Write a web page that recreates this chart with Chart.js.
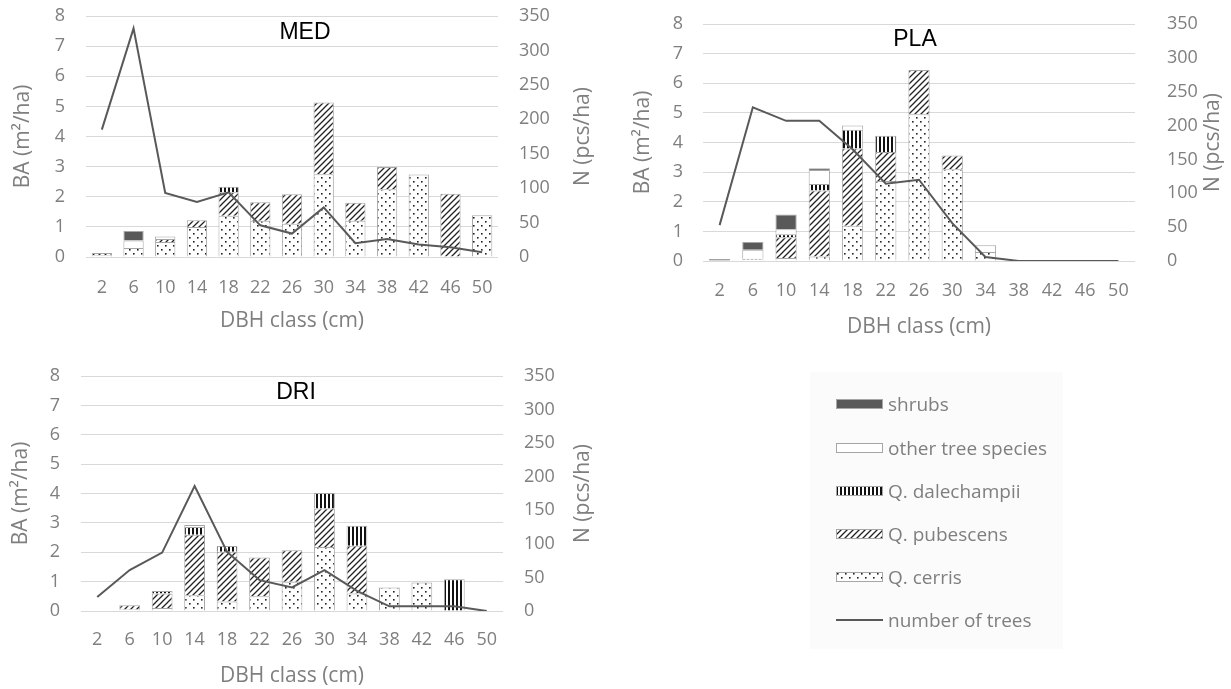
<!DOCTYPE html>
<html>
<head>
<meta charset="utf-8">
<script src="https://cdn.jsdelivr.net/npm/chart.js@4.4.1/dist/chart.umd.min.js"></script>
<style>
    body { margin: 0; background: #fff; }
    #page { position: relative; width: 1231px; height: 689px; overflow: hidden; font-family: 'Open Sans', sans-serif; }
    .panel { position: absolute; }
    #legend { position: absolute; left: 810px; top: 372px; width: 253px; height: 277px; background: #fbfbfb; }
    .item { position: absolute; left: 26px; height: 26px; display: flex; align-items: center; color: #7f7f7f; font-size: 19px; white-space: nowrap; }
    .item canvas { margin-right: 5px; }
</style>
</head>
<body>
<div id="page">
    <canvas id="medChart" class="panel" width="610" height="340" style="left:0;top:0"></canvas>
    <canvas id="plaChart" class="panel" width="616" height="345" style="left:615px;top:0"></canvas>
    <canvas id="driChart" class="panel" width="610" height="339" style="left:0;top:350px"></canvas>
    <div id="legend"></div>
</div>
<script>
// DBH classes (cm)
var dbhClasses = ['2', '6', '10', '14', '18', '22', '26', '30', '34', '38', '42', '46', '50'];

// MED - basal area (m2/ha) by species group, number of trees (pcs/ha)
var medCerris      = [0.06, 0.30, 0.50, 1.00, 1.37, 1.20, 1.10, 2.75, 1.20, 2.25, 2.74, 0,    1.39];
var medPubescens   = [0.07, 0,    0.10, 0.22, 0.78, 0.62, 0.98, 2.38, 0.60, 0.74, 0,    2.10, 0];
var medDalechampii = [0,    0,    0,    0,    0.18, 0,    0,    0,    0,    0,    0,    0,    0];
var medOther       = [0,    0.25, 0.08, 0,    0,    0,    0,    0,    0,    0,    0,    0,    0];
var medShrubs      = [0,    0.31, 0,    0,    0,    0,    0,    0,    0,    0,    0,    0,    0];
var medTrees       = [185,  332,  93,   80,   94,   46,   34,   72,   20,   26,   18,   14,   7];

// PLA
var plaCerris      = [0,    0.05, 0.10, 0.15, 1.19, 2.70, 4.95, 3.10, 0.30, 0, 0, 0, 0];
var plaPubescens   = [0,    0,    0.70, 2.23, 2.61, 0.98, 1.50, 0.46, 0,    0, 0, 0, 0];
var plaDalechampii = [0,    0.03, 0.10, 0.22, 0.63, 0.55, 0,    0,    0,    0, 0, 0, 0];
var plaOther       = [0,    0.30, 0.17, 0.47, 0.14, 0,    0,    0,    0.23, 0, 0, 0, 0];
var plaShrubs      = [0.07, 0.26, 0.50, 0.06, 0,    0,    0,    0,    0,    0, 0, 0, 0];
var plaTrees       = [53,   227,  207,  207,  165,  114,  120,  56,   6,    0, 0, 0, 0];

// DRI
var driCerris      = [0.02, 0.05, 0.10, 0.54, 0.32, 0.50, 1.00, 2.18, 0.60, 0.80, 0.97, 0,    0];
var driPubescens   = [0,    0.15, 0.50, 2.06, 1.70, 1.32, 1.07, 1.31, 1.62, 0,    0,    0,    0];
var driDalechampii = [0,    0,    0.08, 0.26, 0.19, 0,    0,    0.53, 0.68, 0,    0,    1.08, 0];
var driOther       = [0,    0,    0,    0.07, 0,    0,    0,    0,    0,    0,    0,    0,    0];
var driShrubs      = [0,    0,    0,    0,    0,    0,    0,    0,    0,    0,    0,    0,    0];
var driTrees       = [21,   61,   87,   186,  88,   46,   35,   61,   30,   7,    7,    7,    0];

var baTicks = [0, 1, 2, 3, 4, 5, 6, 7, 8];
var nTicks = [0, 50, 100, 150, 200, 250, 300, 350];

var seriesNames = ['Q. cerris', 'Q. pubescens', 'Q. dalechampii', 'other tree species', 'shrubs'];
var lineName = 'number of trees';

var grayText = '#7f7f7f';
var lineColor = '#595959';

function makePattern(kind) {
    var c = document.createElement('canvas');
    var g = c.getContext('2d');
    if (kind === 'dots') {
        c.width = 8; c.height = 8;
        g.fillStyle = '#fff'; g.fillRect(0, 0, 8, 8);
        g.fillStyle = '#222';
        g.fillRect(1, 1, 1.6, 1.6);
        g.fillRect(5, 5, 1.6, 1.6);
    } else if (kind === 'hatch') {
        c.width = 6; c.height = 6;
        g.fillStyle = '#fff'; g.fillRect(0, 0, 6, 6);
        g.strokeStyle = '#222'; g.lineWidth = 1.3;
        g.beginPath();
        g.moveTo(-1, 7); g.lineTo(7, -1);
        g.moveTo(-1, 1); g.lineTo(1, -1);
        g.moveTo(5, 7); g.lineTo(7, 5);
        g.stroke();
    } else if (kind === 'vert') {
        c.width = 4; c.height = 4;
        g.fillStyle = '#fff'; g.fillRect(0, 0, 4, 4);
        g.fillStyle = '#111'; g.fillRect(0, 0, 2, 4);
    }
    return g.createPattern(c, 'repeat');
}

var fills = [makePattern('dots'), makePattern('hatch'), makePattern('vert'), '#ffffff', '#595959'];

// panel title + right axis title (rotated like the left one)
var panelText = {
    id: 'panelText',
    afterDraw: function (chart, args, opts) {
        var ctx = chart.ctx;
        var area = chart.chartArea;
        ctx.save();
        ctx.fillStyle = '#000';
        ctx.font = '23px "Liberation Sans", Arial, sans-serif';
        ctx.textAlign = 'center';
        ctx.textBaseline = 'middle';
        ctx.fillText(opts.title, (area.left + area.right) / 2 + opts.titleDx, area.top + opts.titleDy);
        ctx.translate(area.right + opts.rightDx, (area.top + area.bottom) / 2);
        ctx.rotate(-Math.PI / 2);
        ctx.fillStyle = grayText;
        ctx.font = '21px "Open Sans", sans-serif';
        ctx.fillText('N (pcs/ha)', 0, 0);
        ctx.restore();
    }
};

function makePanel(canvasId, title, groups, trees, geo) {
    var datasets = [{
        type: 'line',
        label: lineName,
        data: trees,
        yAxisID: 'y1',
        borderColor: lineColor,
        borderWidth: 2,
        pointRadius: 0,
        tension: 0,
        order: 0
    }];
    groups.forEach(function (values, i) {
        datasets.push({
            type: 'bar',
            label: seriesNames[i],
            data: values,
            yAxisID: 'y',
            backgroundColor: fills[i],
            borderColor: '#a6a6a6',
            borderWidth: 1,
            barPercentage: 0.64,
            categoryPercentage: 1,
            order: 1
        });
    });

    var tickFont = { family: 'Open Sans', size: 18 };
    var titleFont = { family: 'Open Sans', size: 21 };

    // tick padding would otherwise be added above the plot area
    function fixVertical(width) {
        return function (scale) {
            scale.width = width;
            scale.paddingTop = 0;
            scale.paddingBottom = 0;
        };
    }

    return new Chart(document.getElementById(canvasId), {
        type: 'bar',
        data: { labels: dbhClasses, datasets: datasets },
        options: {
            responsive: false,
            animation: false,
            layout: { padding: { top: geo.top, left: 0, right: 0, bottom: 0 } },
            plugins: {
                legend: { display: false },
                tooltip: { enabled: false },
                panelText: { title: title, titleDx: geo.titleDx, titleDy: geo.titleDy, rightDx: geo.rightDx }
            },
            scales: {
                x: {
                    stacked: true,
                    grid: { display: false },
                    border: { display: false },
                    ticks: { color: grayText, font: tickFont, padding: geo.xPad, maxRotation: 0, autoSkip: false },
                    title: { display: true, text: 'DBH class (cm)', color: grayText, font: titleFont, padding: { top: 0, bottom: geo.xTitlePad } },
                    afterFit: function (scale) { scale.height = geo.xHeight; }
                },
                y: {
                    stacked: true,
                    position: 'left',
                    min: baTicks[0],
                    max: baTicks[baTicks.length - 1],
                    ticks: { stepSize: 1, color: grayText, font: tickFont, padding: geo.yPad },
                    grid: { color: '#d9d9d9', drawTicks: false },
                    border: { display: false },
                    title: { display: true, text: 'BA (m²/ha)', color: grayText, font: titleFont, padding: { top: geo.yTitlePad, bottom: 0 } },
                    afterFit: fixVertical(geo.leftW)
                },
                y1: {
                    position: 'right',
                    min: nTicks[0],
                    max: nTicks[nTicks.length - 1],
                    ticks: { stepSize: 50, color: grayText, font: tickFont, padding: geo.y1Pad },
                    grid: { display: false, drawTicks: false },
                    border: { display: false },
                    afterFit: fixVertical(geo.rightW)
                }
            }
        },
        plugins: [panelText]
    });
}

makePanel('medChart', 'MED',
    [medCerris, medPubescens, medDalechampii, medOther, medShrubs], medTrees,
    { top: 16, leftW: 86, rightW: 112, xHeight: 83, xPad: 12, xTitlePad: 6, yPad: 21, yTitlePad: 10, y1Pad: 21, titleDx: 13, titleDy: 17, rightDx: 85 });

makePanel('plaChart', 'PLA',
    [plaCerris, plaPubescens, plaDalechampii, plaOther, plaShrubs], plaTrees,
    { top: 24, leftW: 88, rightW: 96, xHeight: 84, xPad: 11, xTitlePad: 5, yPad: 20, yTitlePad: 15, y1Pad: 32, titleDx: -4, titleDy: 16, rightDx: 78 });

makePanel('driChart', 'DRI',
    [driCerris, driPubescens, driDalechampii, driOther, driShrubs], driTrees,
    { top: 26, leftW: 81, rightW: 107, xHeight: 78, xPad: 10, xTitlePad: 0, yPad: 21, yTitlePad: 8, y1Pad: 21, titleDx: 4, titleDy: 17, rightDx: 80 });

// legend (reverse stack order, as in the original)
var legend = document.getElementById('legend');
var rowTops = [32, 76, 119, 162, 205, 248];
var legendItems = [4, 3, 2, 1, 0];
legendItems.forEach(function (idx, r) {
    var item = document.createElement('div');
    item.className = 'item';
    item.style.top = (rowTops[r] - 13) + 'px';
    var sw = document.createElement('canvas');
    sw.width = 47; sw.height = 10;
    var g = sw.getContext('2d');
    g.fillStyle = fills[idx];
    g.fillRect(0, 0, 47, 10);
    g.strokeStyle = '#a6a6a6';
    g.lineWidth = 1;
    g.strokeRect(0.5, 0.5, 46, 9);
    item.appendChild(sw);
    var t = document.createElement('span');
    t.textContent = seriesNames[idx];
    item.appendChild(t);
    legend.appendChild(item);
});
var lineItem = document.createElement('div');
lineItem.className = 'item';
lineItem.style.top = (rowTops[5] - 13) + 'px';
var ls = document.createElement('canvas');
ls.width = 47; ls.height = 10;
var lg = ls.getContext('2d');
lg.strokeStyle = lineColor;
lg.lineWidth = 2;
lg.beginPath(); lg.moveTo(0, 5); lg.lineTo(47, 5); lg.stroke();
lineItem.appendChild(ls);
var lt = document.createElement('span');
lt.textContent = lineName;
lineItem.appendChild(lt);
legend.appendChild(lineItem);
</script>
</body>
</html>
